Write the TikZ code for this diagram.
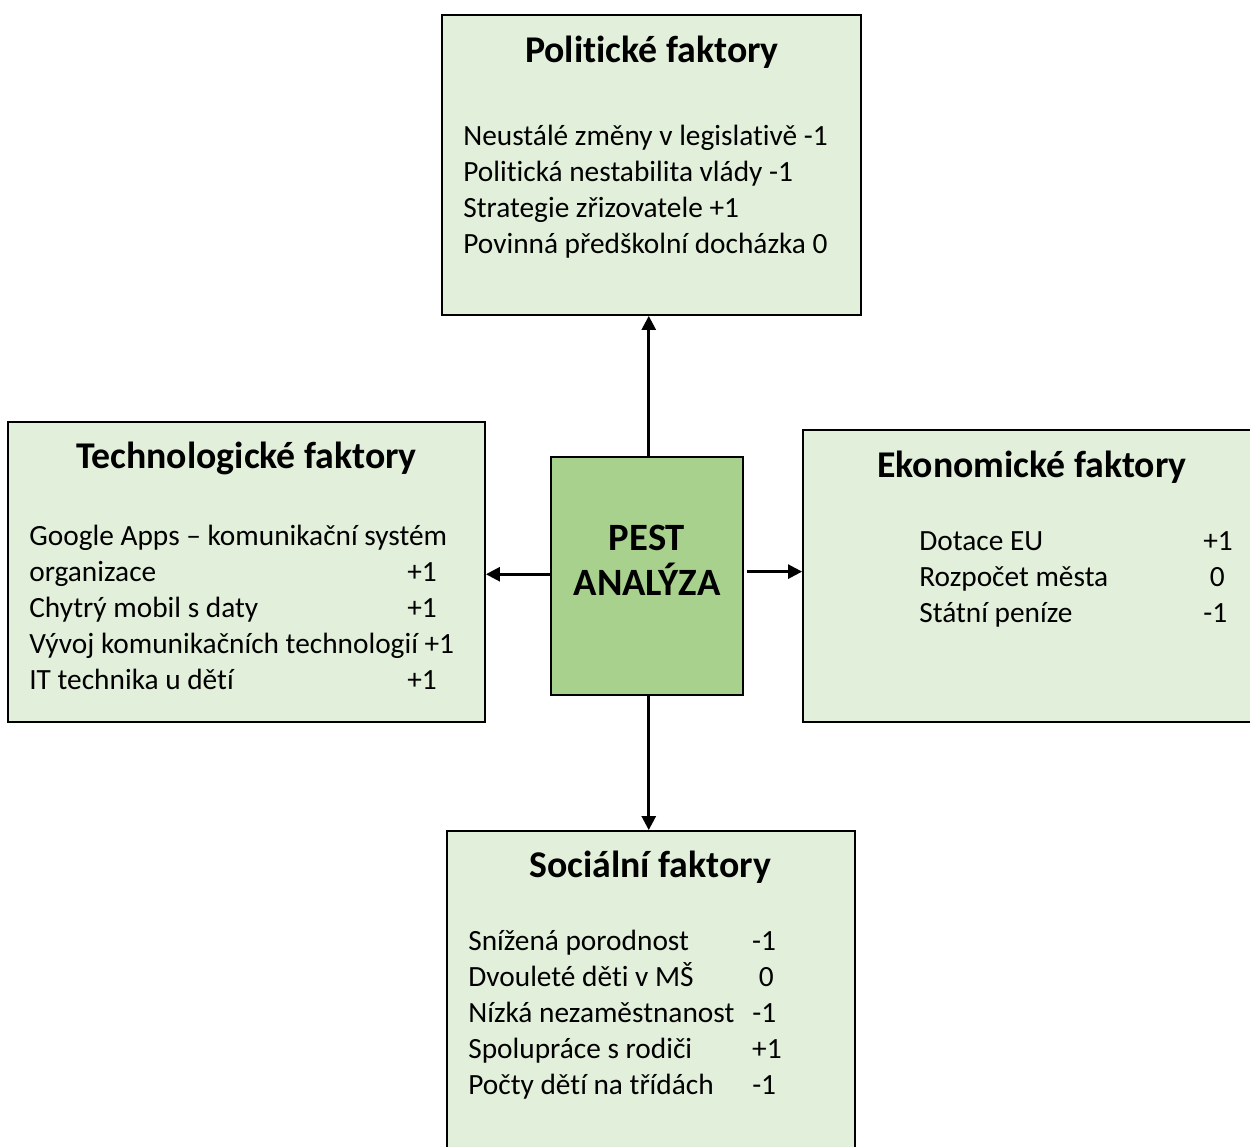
\documentclass[tikz,border=0pt]{standalone}
\usepackage{fontspec}
\setmainfont{Carlito}[Ligatures={NoCommon}]
\usetikzlibrary{arrows.meta}

\definecolor{factorgreen}{HTML}{E2EFDA}
\definecolor{pestgreen}{HTML}{A9D18E}

\tikzset{
  factorbox/.style={draw=black, line width=1.1pt, fill=factorgreen, inner sep=0pt},
  boxtitle/.style={anchor=base, inner sep=0pt, font=\fontsize{21.5}{25}\selectfont\bfseries},
  items/.style={anchor=base west, inner sep=0pt, font=\fontsize{16.7}{20.5}\selectfont},
  link/.style={line width=1.5pt, -{Triangle[length=8pt,width=8pt]}}
}

\begin{document}
\begin{tikzpicture}[x=0.02cm, y=-0.02cm]
  \useasboundingbox (0,0) rectangle (1250,1146);

  \begin{scope}[every node/.style={factorbox}]
    \node[minimum width=8.38cm, minimum height=6cm]    (pol)  at (651.5,165) {};
    \node[minimum width=9.54cm, minimum height=6cm]    (tech) at (246.5,572) {};
    \node[minimum width=9.2cm,  minimum height=5.84cm] (eko)  at (1033,576)  {};
    \node[minimum width=8.16cm, minimum height=6.6cm]  (soc)  at (651,996)   {};
    \node[minimum width=3.84cm, minimum height=4.76cm, fill=pestgreen] (pest) at (647,576) {};
  \end{scope}

  % arrows from the centre
  \draw[link] ([xshift=1pt]pest.north) -- ([xshift=1pt]pest.north |- pol.south);
  \draw[link] ([xshift=1pt]pest.south) -- ([xshift=1pt]pest.south |- soc.north);
  \draw[link] ([yshift=1pt]pest.west) -- ([yshift=1pt]pest.west -| tech.east);
  \draw[link] ([xshift=2pt,yshift=2.5pt]pest.east) -- ([yshift=2.5pt]pest.east -| eko.west);

  \node[anchor=base, font=\fontsize{22}{25}\selectfont\bfseries] (pesttext) at (647,550)
    {\begin{tabular}[t]{@{}c@{}}PEST\\ANALÝZA\end{tabular}};

  % Politické
  \node[boxtitle] (poltitle) at (652,62) {Politické faktory};
  \node[items] (politems) at (463,145) {\begin{tabular}[t]{@{}l@{}}
    Neustálé změny v legislativě -1\\
    Politická nestabilita vlády -1\\
    Strategie zřizovatele +1\\
    Povinná předškolní docházka 0
  \end{tabular}};

  % Technologické
  \node[boxtitle] (techtitle) at (246.5,468) {Technologické faktory};
  \node[items] (techitems) at (29,545) {\begin{tabular}[t]{@{}p{7.56cm}@{}l@{}}
    \multicolumn{2}{@{}l@{}}{Google Apps – komunikační systém}\\
    organizace & +1\\
    Chytrý mobil s daty & +1\\
    \multicolumn{2}{@{}l@{}}{Vývoj komunikačních technologií +1}\\
    IT technika u dětí & +1
  \end{tabular}};

  % Ekonomické
  \node[boxtitle] (ekotitle) at (1032,477) {Ekonomické faktory};
  \node[items] (ekoitems) at (919,550) {\begin{tabular}[t]{@{}p{5.68cm}@{}l@{}}
    Dotace EU & +1\\
    Rozpočet města & \ 0\\
    Státní peníze & -1
  \end{tabular}};

  % Sociální
  \node[boxtitle] (soctitle) at (650,877) {Sociální faktory};
  \node[items] (socitems) at (468,950) {\begin{tabular}[t]{@{}p{5.68cm}@{}l@{}}
    Snížená porodnost & -1\\
    Dvouleté děti v MŠ & \ 0\\
    Nízká nezaměstnanost & -1\\
    Spolupráce s rodiči & +1\\
    Počty dětí na třídách & -1
  \end{tabular}};

\end{tikzpicture}
\end{document}
